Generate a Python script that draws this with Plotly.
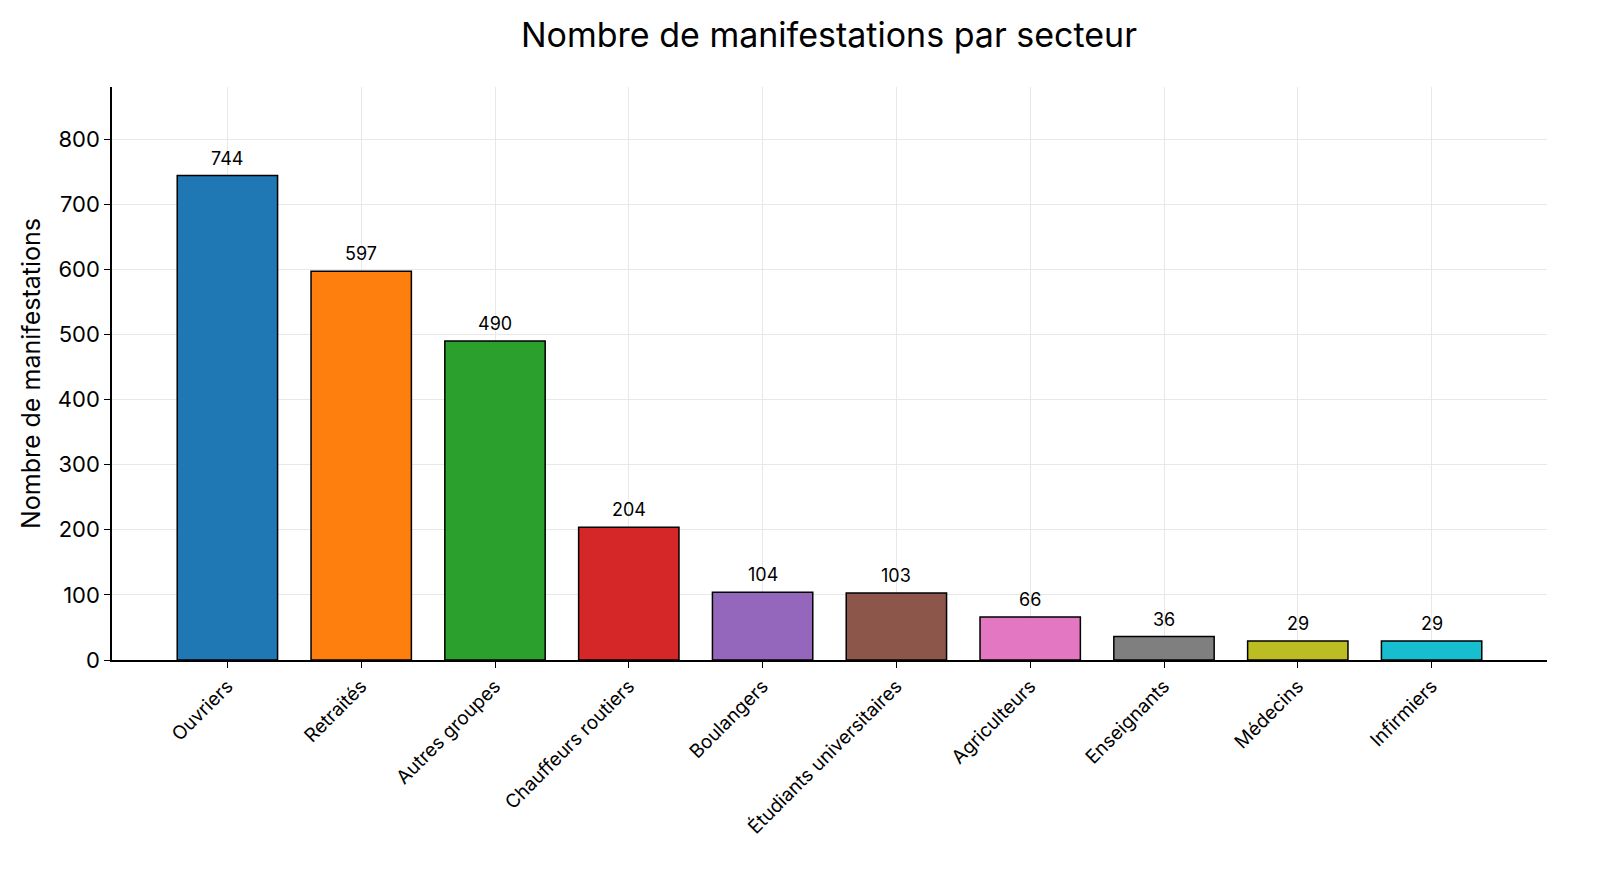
import plotly.graph_objects as go

font_family = 'Inter, Roboto, sans-serif'

secteurs = ['Ouvriers', 'Retraités', 'Autres groupes', 'Chauffeurs routiers', 'Boulangers',
            'Étudiants universitaires', 'Agriculteurs', 'Enseignants', 'Médecins', 'Infirmiers']
nb_manifestations = [744, 597, 490, 204, 104, 103, 66, 36, 29, 29]
couleurs = ['#1f77b4', '#ff7f0e', '#2ca02c', '#d62728', '#9467bd',
            '#8c564b', '#e377c2', '#7f7f7f', '#bcbd22', '#17becf']
y_ticks = [0, 100, 200, 300, 400, 500, 600, 700, 800]

positions = list(range(len(secteurs)))

fig = go.Figure()
fig.add_trace(go.Bar(
    x=positions,
    y=nb_manifestations,
    width=0.75,
    marker=dict(color=couleurs, line=dict(color='black', width=1.5)),
    cliponaxis=False,
))

# valeurs au-dessus des barres
for i, v in zip(positions, nb_manifestations):
    fig.add_annotation(x=i, y=v, text=str(v), showarrow=False,
                       xanchor='center', yanchor='bottom', yshift=5,
                       font=dict(size=18, color='black', family=font_family))

fig.update_layout(
    template='simple_white',
    width=1584, height=857,
    font=dict(family=font_family, color='black'),
    title=dict(text='Nombre de manifestations par secteur', x=0.5183, xanchor='center',
               y=0.9685, yanchor='middle', font=dict(size=34)),
    margin=dict(l=104, r=45, t=79, b=205),
    showlegend=False,
    plot_bgcolor='white',
    xaxis=dict(
        range=[-0.8625, 9.8625],
        tickmode='array',
        tickvals=positions,
        ticktext=secteurs,
        tickangle=-45,
        showgrid=True, gridcolor='#e8e8e8', gridwidth=1,
        showline=True, linecolor='black', linewidth=1.5,
        ticks='outside', ticklen=6, tickcolor='black',
        tickfont=dict(size=19),
        zeroline=False,
        mirror=False,
    ),
    yaxis=dict(
        range=[0, 880],
        tickmode='array',
        tickvals=y_ticks,
        showgrid=True, gridcolor='#e8e8e8', gridwidth=1,
        showline=True, linecolor='black', linewidth=1.5,
        ticks='outside', ticklen=6, tickcolor='black',
        tickfont=dict(size=22),
        title=dict(text='Nombre de manifestations', font=dict(size=25), standoff=10),
        zeroline=False,
        mirror=False,
    ),
)

fig.write_html('out.html')
